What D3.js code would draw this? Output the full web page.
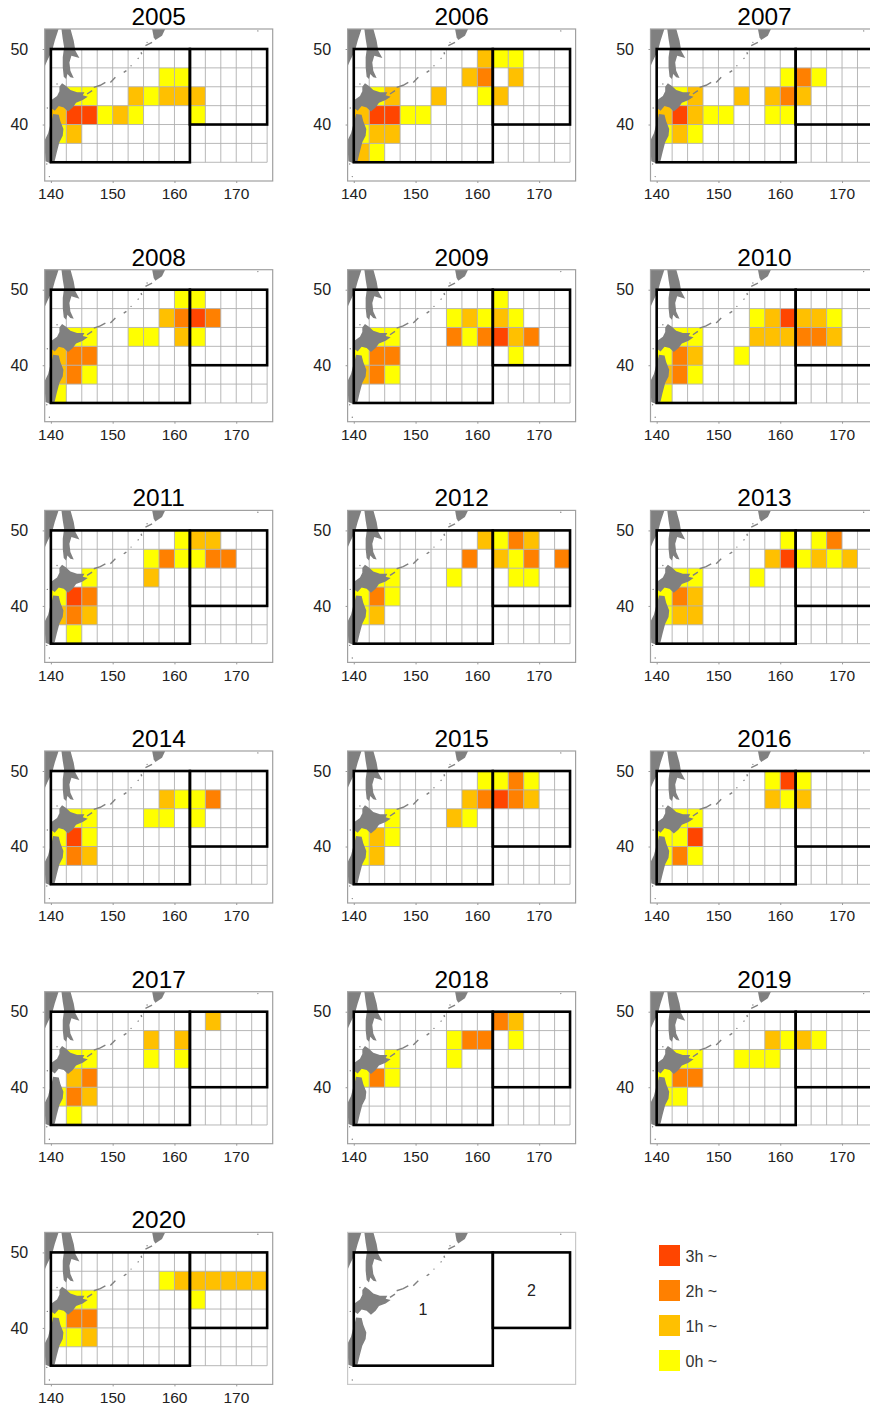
<!DOCTYPE html>
<html>
<head>
<meta charset="utf-8">
<script src="https://cdn.jsdelivr.net/npm/d3@7"></script>
<style>
html, body { margin: 0; padding: 0; background: #fff; overflow: hidden; }
svg { display: block; font-family: "Liberation Sans", Arial, sans-serif; }
.soft { filter: blur(0.35px); }
</style>
</head>
<body>
<div id="chart"></div>
<script>
// Hours per 2.5 degree cell, north row first, west column first. "." = no cell
const years = [2005, 2006, 2007, 2008, 2009, 2010, 2011, 2012, 2013, 2014, 2015, 2016, 2017, 2018, 2019, 2020];
const y2005 = ["..............", ".......00.....", ".00..10111....", "133010...0....", "01............", ".............."];
const y2006 = ["........100...", ".......12.1...", ".01..1..01....", "13300.........", "011...........", "10............"];
const y2007 = ["..............", "........020...", ".01..1.121....", "13100..00.....", "010...........", ".............."];
const y2008 = ["........00....", ".......1232...", ".00..00.10....", "122...........", "120...........", "0............."];
const y2009 = [".........0....", "......01010...", ".00...202312..", "022.......0...", "120...........", ".............."];
const y2010 = ["..............", "......013110..", ".00...111221..", "021..0........", "120...........", "0............."];
const y2011 = ["........011...", "......020022..", "..0...1.......", "032...........", "121...........", ".0............"];
const y2012 = ["........1021..", ".......2.102.2", ".00...0...00..", "020...........", "01............", ".............."];
const y2013 = ["........0.02..", ".......130101.", ".00...0.......", "021...........", "011...........", ".............."];
const y2014 = ["..............", ".......1002...", ".00...00.0....", "030...........", "021...........", ".............."];
const y2015 = ["........0020..", ".......12321..", "..0...10......", "010...........", "01............", ".............."];
const y2016 = [".......030....", ".......101....", ".00...........", "003...........", "020...........", ".............."];
const y2017 = ["..........1...", "......1.1.....", ".00...0.0.....", ".12...........", "021...........", ".0............"];
const y2018 = [".........21...", "......022.0...", "..0...0.......", "020...........", "..............", ".............."];
const y2019 = ["..............", ".......1010...", ".00..000......", "022...........", "00............", ".............."];
const y2020 = ["..............", ".......0111111", ".00......0....", "022...........", "001...........", ".............."];
const yearCells = [y2005, y2006, y2007, y2008, y2009, y2010, y2011, y2012, y2013, y2014, y2015, y2016, y2017, y2018, y2019, y2020];

const cellLons = [140, 142.5, 145, 147.5, 150, 152.5, 155, 157.5, 160, 162.5, 165, 167.5, 170, 172.5, 175];
const cellLats = [50, 47.5, 45, 42.5, 40, 37.5, 35];
const lonTicks = [140, 150, 160, 170];
const latTicks = [40, 50];

const levelColors = ["#ffff00", "#ffc000", "#ff8000", "#ff4500"];
const legendLabels = ["0h ~", "1h ~", "2h ~", "3h ~"];

// Region boxes as [west, east, south, north]
const region1 = [140, 162.5, 35, 50];
const region2 = [162.5, 175, 40, 50];

// Land, lon/lat
const amur = [[138.9, 52.7], [141.27, 52.7], [140.63, 51.1], [140.2, 49.78], [139.4, 48.45], [138.9, 47.5]];
const sakhalin = [[141.7, 52.7], [141.92, 51.32], [142.14, 50.22], [141.92, 48.9], [141.92, 47.57], [142.08, 46.34], [142.46, 46.03], [142.68, 46.69], [143.16, 46.25], [143.7, 46.16], [143.16, 47.13], [143.0, 48.23], [143.32, 49.12], [144.62, 48.81], [143.97, 49.78], [143.7, 51.1], [143.16, 52.7]];
const hokkaido = [[141.81, 45.45], [142.46, 45.1], [143.16, 44.57], [144.24, 44.26], [145.43, 44.26], [145.16, 43.86], [145.97, 43.69], [145.16, 43.25], [144.08, 42.89], [143.54, 42.27], [142.78, 41.74], [142.08, 42.27], [141.27, 42.45], [140.63, 41.83], [140.09, 42.14], [140.09, 43.25], [141.0, 43.77], [141.38, 44.39], [141.38, 45.01]];
const honshu = [[140.36, 41.39], [141.27, 41.3], [141.54, 40.42], [142.03, 39.4], [141.92, 38.52], [141.38, 37.64], [140.95, 36.31], [140.63, 35.21], [139.92, 34.86], [139.12, 35.12], [138.96, 37.86], [139.55, 38.83], [139.87, 39.85], [140.19, 40.73]];
const kamchatka = [[156.38, 52.7], [158.53, 52.7], [157.99, 51.77], [156.91, 51.19], [156.64, 51.55]];
const kurilDashes = [[[145.86, 44.04], [146.67, 44.48]], [[146.94, 44.92], [148.0, 45.2], [148.82, 45.58]], [[149.63, 45.58], [150.44, 46.25]], [[151.79, 46.91], [152.22, 47.13]], [[154.06, 48.81], [154.2, 48.7]], [[154.6, 49.56], [154.7, 49.3]], [[155.3, 50.44], [156.38, 50.88]]];
const islets = [[141.0, 45.36], [139.43, 42.19], [139.34, 34.77], [139.76, 33.1], [173.5, 52.4], [152.98, 47.79], [155.57, 50.88]];

const labelsInMap = [{ lon: 151.2, lat: 42.4, text: "1" }, { lon: 168.75, lat: 45, text: "2" }];

const width = 870, height = 1409;
const plotWidth = 228, plotHeight = 152;
const colX = [44.7, 347.6, 650.5];
const rowY = [29, 269.7, 510.4, 751, 991.7, 1232.4];

const svg = d3.select("#chart").append("svg")
    .attr("width", width)
    .attr("height", height)
    .attr("viewBox", `0 0 ${width} ${height}`);

const xScale = d3.scaleLinear().domain([139, 175.9]).range([0, plotWidth]);
const yScale = d3.scaleLinear().domain([52.65, 32.52]).range([0, plotHeight]);

const landPath = d3.line().x(d => xScale(d[0])).y(d => yScale(d[1]));

svg.append("defs").append("clipPath").attr("id", "plot-clip")
    .append("rect")
    .attr("width", plotWidth)
    .attr("height", plotHeight);

function drawLand(g) {
    const land = g.append("g").attr("clip-path", "url(#plot-clip)");
    land.selectAll("path.land")
        .data([amur, sakhalin, hokkaido, honshu, kamchatka])
        .enter().append("path")
        .attr("class", "land")
        .attr("d", d => landPath(d) + "Z")
        .attr("fill", "#808080");
    land.selectAll("path.kuril")
        .data(kurilDashes)
        .enter().append("path")
        .attr("class", "kuril")
        .attr("d", landPath)
        .attr("fill", "none")
        .attr("stroke", "#808080")
        .attr("stroke-width", 1.4);
    land.selectAll("circle")
        .data(islets)
        .enter().append("circle")
        .attr("cx", d => xScale(d[0]))
        .attr("cy", d => yScale(d[1]))
        .attr("r", 0.7)
        .attr("fill", "#808080");
}

function drawRegions(g) {
    g.selectAll("rect.region")
        .data([region1, region2])
        .enter().append("rect")
        .attr("class", "region")
        .attr("x", d => xScale(d[0]))
        .attr("y", d => yScale(d[3]))
        .attr("width", d => xScale(d[1]) - xScale(d[0]))
        .attr("height", d => yScale(d[2]) - yScale(d[3]))
        .attr("fill", "none")
        .attr("stroke", "#000")
        .attr("stroke-width", 2.6);
}

function drawBorder(g, color) {
    g.append("rect")
        .attr("width", plotWidth)
        .attr("height", plotHeight)
        .attr("fill", "none")
        .attr("stroke", color)
        .attr("stroke-width", 1.2);
}

years.forEach((year, i) => {
    const g = svg.append("g")
        .attr("transform", `translate(${colX[i % 3]},${rowY[Math.floor(i / 3)]})`);
    const soft = g.append("g").attr("class", "soft");

    // Cells
    const cells = [];
    yearCells[i].forEach((row, r) => {
        row.split("").forEach((c, k) => {
            if (c !== ".") cells.push({ r, k, level: +c });
        });
    });
    soft.selectAll("rect.cell")
        .data(cells)
        .enter().append("rect")
        .attr("class", "cell")
        .attr("x", d => xScale(cellLons[d.k]))
        .attr("y", d => yScale(cellLats[d.r]))
        .attr("width", d => xScale(cellLons[d.k + 1]) - xScale(cellLons[d.k]))
        .attr("height", d => yScale(cellLats[d.r + 1]) - yScale(cellLats[d.r]))
        .attr("fill", d => levelColors[d.level]);

    // Grid
    soft.selectAll("line.v")
        .data(cellLons)
        .enter().append("line")
        .attr("class", "v")
        .attr("x1", d => xScale(d)).attr("x2", d => xScale(d))
        .attr("y1", yScale(50)).attr("y2", yScale(35))
        .attr("stroke", "#b0b0b0").attr("stroke-width", 0.9);
    soft.selectAll("line.h")
        .data(cellLats)
        .enter().append("line")
        .attr("class", "h")
        .attr("y1", d => yScale(d)).attr("y2", d => yScale(d))
        .attr("x1", xScale(140)).attr("x2", xScale(175))
        .attr("stroke", "#b0b0b0").attr("stroke-width", 0.9);

    drawLand(soft);
    drawRegions(soft);
    drawBorder(soft, "#a0a0a0");

    // Axes
    const xAxis = g.append("g")
        .attr("transform", `translate(0,${plotHeight})`)
        .call(d3.axisBottom(xScale).tickValues(lonTicks).tickSize(2).tickPadding(5.2).tickFormat(d3.format("d")));
    const yAxis = g.append("g")
        .call(d3.axisLeft(yScale).tickValues(latTicks).tickSize(2).tickPadding(14.5).tickFormat(d3.format("d")));
    [xAxis, yAxis].forEach(axis => {
        axis.select(".domain").remove();
        axis.selectAll("line").attr("stroke", "#999");
        axis.selectAll("text")
            .attr("fill", "#222")
            .style("font-family", '"Liberation Sans", Arial, sans-serif');
    });
    xAxis.selectAll("text").style("font-size", "15.5px").attr("x", -0.4);
    yAxis.selectAll("text").style("font-size", "16px");

    g.append("text")
        .attr("x", plotWidth / 2)
        .attr("y", -4.2)
        .attr("text-anchor", "middle")
        .attr("fill", "#000")
        .style("font-size", "24.4px")
        .text(year);
});

// Key map panel with the two regions
const keyMap = svg.append("g")
    .attr("transform", `translate(${colX[1]},${rowY[5]})`);
const keySoft = keyMap.append("g").attr("class", "soft");
drawLand(keySoft);
drawRegions(keySoft);
drawBorder(keySoft, "#c8c8c8");
keyMap.selectAll("text.region-label")
    .data(labelsInMap)
    .enter().append("text")
    .attr("class", "region-label")
    .attr("x", d => xScale(d.lon))
    .attr("y", d => yScale(d.lat))
    .attr("dy", "0.35em")
    .attr("text-anchor", "middle")
    .attr("fill", "#222")
    .style("font-size", "16px")
    .text(d => d.text);

// Legend
const legendScale = d3.scalePoint()
    .domain(legendLabels.slice().reverse())
    .range([1255.5, 1360.5]);
const legend = svg.selectAll("g.legend")
    .data(legendLabels)
    .enter().append("g")
    .attr("class", "legend")
    .attr("transform", d => `translate(659,${legendScale(d)})`);
legend.append("rect")
    .attr("y", -10.5)
    .attr("width", 21)
    .attr("height", 21)
    .attr("fill", (d, i) => levelColors[i]);
legend.append("text")
    .attr("x", 26.5)
    .attr("y", 0.5)
    .attr("dy", "0.35em")
    .attr("fill", "#333")
    .style("font-size", "16px")
    .text(d => d);
</script>
</body>
</html>
